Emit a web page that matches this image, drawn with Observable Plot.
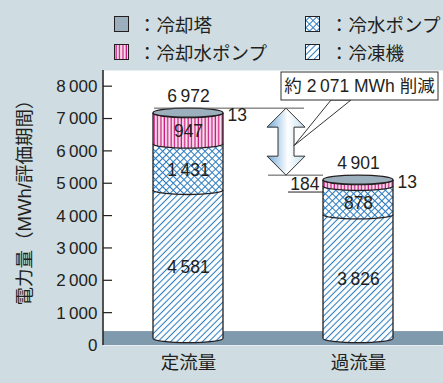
<!DOCTYPE html>
<html><head><meta charset="utf-8">
<script src="https://cdn.jsdelivr.net/npm/d3@7"></script>
<script src="https://cdn.jsdelivr.net/npm/@observablehq/plot@0.6"></script>
<style>
  html,body{margin:0;padding:0;}
  body{width:443px;height:383px;overflow:hidden;background:#cfdde2;font-family:"Liberation Sans","Noto Sans CJK JP",sans-serif;color:#231f20;position:relative;}
  #legend{position:relative;height:70px;}
  .sw{position:absolute;width:13px;height:14px;border:1.5px solid #231f20;}
  .lt{position:absolute;font-size:18.5px;line-height:20px;white-space:nowrap;font-family:"Noto Sans CJK JP",sans-serif;}
  #chart{position:absolute;left:0;top:70px;}
</style>
</head><body>
<svg width="0" height="0" style="position:absolute">
  <defs>
    <pattern id="pHatch" patternUnits="userSpaceOnUse" width="4.5" height="4.5" patternTransform="rotate(45)">
      <rect width="4.5" height="4.5" fill="#ffffff"/>
      <line x1="2.25" y1="0" x2="2.25" y2="4.5" stroke="#2b7bbf" stroke-width="1.05"/>
    </pattern>
    <pattern id="pCross" patternUnits="userSpaceOnUse" width="5" height="5" patternTransform="rotate(45)">
      <rect width="5" height="5" fill="#ffffff"/>
      <path d="M2.5 0V5M0 2.5H5" stroke="#2b7bbf" stroke-width="1.05"/>
    </pattern>
    <pattern id="pStripe" patternUnits="userSpaceOnUse" width="3.4" height="10">
      <rect width="3.4" height="10" fill="#f9e4ef"/>
      <rect x="0.5" width="1.3" height="10" fill="#c8197e"/>
    </pattern>
    <linearGradient id="gArrow" x1="0" x2="1" y1="0" y2="0">
      <stop offset="0" stop-color="#6fa8d6"/>
      <stop offset="0.55" stop-color="#ffffff"/>
      <stop offset="1" stop-color="#c2ddef"/>
    </linearGradient>
  </defs>
</svg>
<div id="legend"></div>
<div id="chart"></div>
<script>
// ---------- data ----------
const categories = ["定流量", "過流量"];
const seriesNames = ["冷凍機", "冷水ポンプ", "冷却水ポンプ", "冷却塔"];
const chiller = [4581, 3826];   // 冷凍機
const chwPump = [1431, 878];    // 冷水ポンプ
const cwPump  = [947, 184];     // 冷却水ポンプ
const tower   = [13, 13];       // 冷却塔
const totals  = [6972, 4901];
const yTicks  = [0, 1000, 2000, 3000, 4000, 5000, 6000, 7000, 8000];
const yLabel  = "電力量（MWh/評価期間）";
const legendOrder = ["冷却塔", "冷水ポンプ", "冷却水ポンプ", "冷凍機"];

// ---------- style constants ----------
const FONT = '"Liberation Sans","Noto Sans CJK JP",sans-serif';
const INK = "#231f20";
const NUM = 17.5;
const seriesFill = {
  "冷凍機": "url(#pHatch)",
  "冷水ポンプ": "url(#pCross)",
  "冷却水ポンプ": "url(#pStripe)",
  "冷却塔": "#9bafbd"
};
const LIFT = 210;        // 3-D base lift of the cylinders (value units)
const FLOOR = 430;       // top of the grey floor band (value units)
const RY = 4.5;          // ellipse half-height of cylinder ends
const fmt = d => d3.format(",")(d).replace(/,/g, "\u2009");

// ---------- derived tables ----------
const seriesValues = [chiller, chwPump, cwPump, tower];
const segments = [];
categories.forEach((cat, i) => {
  let c = 0;
  seriesValues.forEach((vals, s) => {
    segments.push({cat, i, name: seriesNames[s], v0: c, v1: c + vals[i], value: vals[i]});
    c += vals[i];
  });
});
const stackTop = categories.map((cat, i) => d3.sum(seriesValues, v => v[i]));
const insideLabels = segments.filter(d => d.name !== "冷却塔" && d.value >= 300)
  .map(d => ({cat: d.cat, y: LIFT + (d.v0 + d.v1) / 2, text: fmt(d.value)}));
const leftLabels = segments.filter(d => d.name === "冷却水ポンプ" && d.value < 300)
  .map(d => ({cat: d.cat, y: LIFT + (d.v0 + d.v1) / 2, text: fmt(d.value)}));
const rightLabels = segments.filter(d => d.name === "冷却塔")
  .map(d => ({cat: d.cat, y: LIFT + d.v1, text: fmt(d.value)}));
const totalLabels = categories.map((cat, i) => ({cat, y: LIFT + stackTop[i], text: fmt(totals[i])}));
const reduction = totals[0] - totals[1];
const reductionText = "約 " + fmt(reduction) + " MWh 削減";

// ---------- layout ----------
const W = 443, H = 313, ML = 103, MR = 0, MT = 0, MB = 38;
const PI = 0.588, PO = 0.294;
const bw = d3.scaleBand(categories, [ML, W - MR]).paddingInner(PI).paddingOuter(PO).bandwidth();

const NS = "http://www.w3.org/2000/svg";
function el(tag, attrs) {
  const e = document.createElementNS(NS, tag);
  for (const k in attrs) e.setAttribute(k, attrs[k]);
  return e;
}
function bandOf(x) { return typeof x.bandwidth === "function" ? x.bandwidth() : bw; }

function cylinders(index, scales) {
  const {x, y} = scales;
  const b = bandOf(x);
  const rx = b / 2;
  const g = el("g", {});
  for (const cat of categories) {
    const xl = x(cat), xr = xl + b;
    const segs = segments.filter(d => d.cat === cat);
    for (const d of segs) {
      const y0 = y(LIFT + d.v0), y1 = y(LIFT + d.v1);
      g.appendChild(el("path", {
        d: `M${xl},${y1}L${xl},${y0}A${rx},${RY} 0 0 0 ${xr},${y0}L${xr},${y1}A${rx},${RY} 0 0 1 ${xl},${y1}Z`,
        fill: seriesFill[d.name], stroke: "none"
      }));
    }
    for (const d of segs) {
      const y0 = y(LIFT + d.v0);
      g.appendChild(el("path", {d: `M${xl},${y0}A${rx},${RY} 0 0 0 ${xr},${y0}`, fill: "none", stroke: INK, "stroke-width": 1.3}));
    }
    const yt = y(LIFT + segs[segs.length - 1].v1), yb = y(LIFT);
    g.appendChild(el("path", {d: `M${xl},${yt}V${yb}M${xr},${yt}V${yb}`, fill: "none", stroke: INK, "stroke-width": 1.3}));
    g.appendChild(el("ellipse", {cx: xl + rx, cy: yt, rx, ry: RY, fill: "#9bafbd", stroke: INK, "stroke-width": 1.3}));
  }
  return g;
}

function annotations(index, scales, values, dims) {
  const {x, y} = scales;
  const b = bandOf(x);
  const g = el("g", {});
  const x1r = x(categories[0]) + b, x2l = x(categories[1]);
  const ax = x1r + 0.63 * (x2l - x1r);
  const yt = y(LIFT + stackTop[0]) - RY;
  const yb = y(LIFT + stackTop[1]) - RY;
  g.appendChild(el("path", {d: `M${x(categories[0]) + 1},${yt}H${ax + 18}`, stroke: "#555", "stroke-width": 1, fill: "none"}));
  g.appendChild(el("path", {d: `M${ax - 18},${yb}H${x2l}`, stroke: "#555", "stroke-width": 1, fill: "none"}));
  for (const d of leftLabels) {
    const yy = y(d.y) + 9;
    const xl = x(d.cat);
    g.appendChild(el("path", {d: `M${xl - 35},${yy}H${xl}`, stroke: INK, "stroke-width": 1, fill: "none"}));
  }
  const hw = 19, sw = 8, hh = 19;
  const pts = [[ax, yt], [ax + hw, yt + hh], [ax + sw, yt + hh], [ax + sw, yb - hh], [ax + hw, yb - hh], [ax, yb],
    [ax - hw, yb - hh], [ax - sw, yb - hh], [ax - sw, yt + hh], [ax - hw, yt + hh]];
  g.appendChild(el("polygon", {points: pts.map(p => p.join(",")).join(" "), fill: "url(#gArrow)", stroke: "#333", "stroke-width": 1}));
  const bx0 = ax - 5, bx1 = dims.width - 5, by0 = dims.marginTop + 2, by1 = by0 + 28;
  const tipY = (yt + yb) / 2 + 4, tipX = ax + sw;
  g.appendChild(el("polygon", {points: `${bx0 + 50},${by1} ${tipX},${tipY} ${bx0 + 70},${by1}`, fill: "#fff", stroke: "#333", "stroke-width": 1}));
  g.appendChild(el("rect", {x: bx0, y: by0, width: bx1 - bx0, height: by1 - by0, fill: "#fff", stroke: "#333", "stroke-width": 1}));
  const t = el("text", {x: (bx0 + bx1) / 2, y: (by0 + by1) / 2, "text-anchor": "middle", dy: "0.36em", "font-size": 17.5, fill: INK});
  t.textContent = reductionText;
  g.appendChild(t);
  return g;
}

function axisLine(index, scales, values, dims) {
  const {y} = scales;
  const g = el("g", {});
  const x0 = dims.marginLeft;
  g.appendChild(el("path", {d: `M${x0},${dims.marginTop}V${dims.height - dims.marginBottom}`, stroke: INK, "stroke-width": 1.5, fill: "none"}));
  for (const t of yTicks) {
    if (t === 0) continue;
    g.appendChild(el("path", {d: `M${x0},${y(t)}H${x0 + 9}`, stroke: INK, "stroke-width": 1.2, fill: "none"}));
  }
  return g;
}

const chart = Plot.plot({
  width: W, height: H,
  marginLeft: ML, marginRight: MR, marginTop: MT, marginBottom: MB,
  style: {background: "transparent", fontFamily: FONT, fontSize: "17px", color: INK, overflow: "visible"},
  x: {type: "band", domain: categories, paddingInner: PI, paddingOuter: PO, axis: null},
  y: {domain: [0, 8500], ticks: yTicks, tickFormat: fmt, tickSize: 0, tickPadding: 6, label: null},
  marks: [
    Plot.frame({fill: "#ffffff", stroke: "none"}),
    Plot.rect([FLOOR], {y1: 0, y2: d => d, fill: "#7f99ad"}),
    cylinders,
    annotations,
    Plot.text(insideLabels, {x: "cat", y: "y", text: "text", dy: 3, fontSize: NUM, fill: INK}),
    Plot.text(totalLabels, {x: "cat", y: "y", text: "text", dy: -17, fontSize: NUM, fill: INK}),
    Plot.text(rightLabels, {x: "cat", y: "y", text: "text", dx: bw / 2 + 4, dy: 2, textAnchor: "start", fontSize: NUM, fill: INK}),
    Plot.text(leftLabels, {x: "cat", y: "y", text: "text", dx: -bw / 2 - 4, dy: 1, textAnchor: "end", fontSize: NUM, fill: INK}),
    Plot.text(categories, {x: d => d, frameAnchor: "bottom", dy: 18, lineAnchor: "middle", fontSize: 18.5, fill: INK}),
    Plot.text([yLabel], {text: d => d, frameAnchor: "left", rotate: -90, dx: -78, dy: -10, textAnchor: "middle", fontSize: 18.5, fill: INK}),
    axisLine
  ]
});
document.getElementById("chart").appendChild(chart);

// ---------- legend ----------
const legendPos = {
  "冷却塔": [114, 16, 138, 14],
  "冷水ポンプ": [305, 16, 330, 14],
  "冷却水ポンプ": [114, 44, 138, 42],
  "冷凍機": [305, 44, 330, 42]
};
const leg = document.getElementById("legend");
for (const name of legendOrder) {
  const [sx, sy, tx, ty] = legendPos[name];
  const s = document.createElement("div");
  s.className = "sw";
  s.style.left = sx + "px"; s.style.top = sy + "px";
  s.innerHTML = `<svg width="13" height="14" style="display:block"><rect width="13" height="14" fill="${seriesFill[name]}"/></svg>`;
  leg.appendChild(s);
  const t = document.createElement("div");
  t.className = "lt";
  t.style.left = tx + "px"; t.style.top = ty + "px";
  t.textContent = "：" + name;
  leg.appendChild(t);
}
</script>
</body></html>
